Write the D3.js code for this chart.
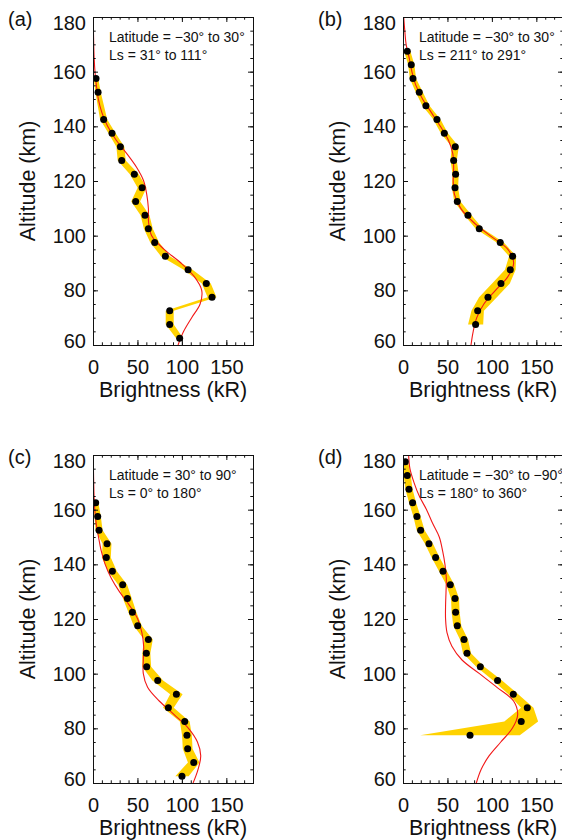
<!DOCTYPE html>
<html>
<head>
<meta charset="utf-8">
<script src="https://cdn.jsdelivr.net/npm/d3@7"></script>
<style>
  body { margin: 0; background: #fff; }
  svg { display: block; font-family: "Liberation Sans", Arial, sans-serif; }
  .axis text { font-size: 20px; fill: #111; font-family: "Liberation Sans", Arial, sans-serif; }
  .axis line { stroke: #111; }
  .title { font-size: 21.5px; fill: #111; }
  .panel-name { font-size: 20px; fill: #111; }
  .note { font-size: 14px; fill: #111; }
</style>
</head>
<body>
<svg width="562" height="840"></svg>
<script>

// altitude grid of the red model curves (km)
var modelAlt = [60, 65, 70, 75, 80, 85, 90, 95, 100, 105, 110, 115, 120,
                125, 130, 135, 140, 145, 150, 155, 160, 165, 170, 175, 180];

// panel (a)
var altA = [157.5, 152.5, 142.5, 137.5, 132.5, 127.5, 122.5, 117.5, 112.5, 107.5,
            102.5, 97.5, 92.5, 87.5, 82.5, 77.5, 72.5, 67.5, 62.5];
var brightA = [3.4, 5.7, 12, 21.4, 30.8, 32.3, 46.5, 55.2, 48, 58.5,
               62.3, 69.4, 81.4, 107, 127.5, 133.9, 86.3, 86.3, 97.5];
var errA = [2.5, 3, 4, 4, 4.5, 4.5, 5, 5, 5, 5, 5, 5, 5, 5, 5, 5, 4.5, 4.5, 4];
var modelA = [95.7, 102, 111, 120.5, 122.3, 114, 99, 80, 66, 62.5, 62.3, 60.5, 57,
              49, 38, 26, 16.5, 10, 6, 3.8, 2.2, 1.3, 0.8, 0.5, 0.3];

// panel (b)
var altB = [167.5, 162.5, 157.5, 152.5, 147.5, 142.5, 137.5, 132.5, 127.5, 122.5,
            117.5, 112.5, 107.5, 102.5, 97.5, 92.5, 87.5, 82.5, 77.5, 72.5, 67.5];
var brightB = [4.8, 9.3, 11.2, 18.3, 25.8, 38.2, 46.5, 58.8, 57, 59.2,
               58.5, 61.1, 73.1, 85.8, 109.4, 123.3, 120.7, 110.2, 95.6, 84, 81.7];
var errB = [3.5, 3.5, 3.5, 4, 4, 4, 4, 4, 3.5, 3.5, 3.5, 3.5, 4, 4, 4, 4, 6, 10, 10, 7, 8.5];
var modelB = [76.5, 79, 83, 91, 104, 118, 124.5, 118, 98, 79, 65, 58, 56.5,
              57, 56, 51, 42, 32, 22, 14.5, 10, 7, 3.5, 2, 0.8];

// panel (c)
var altC = [162.5, 157.5, 152.5, 147.5, 142.5, 137.5, 132.5, 127.5, 122.5, 117.5,
            112.5, 107.5, 102.5, 97.5, 92.5, 87.5, 82.5, 77.5, 72.5, 67.5, 62.5];
var brightC = [3, 5.3, 6.8, 15.8, 15, 21.8, 33.4, 38.7, 44.3, 50.3,
               62.3, 60, 60.4, 72.8, 93.8, 84.8, 103.2, 105.7, 106.5, 113.3, 100.1];
var errC = [3, 3.5, 4, 5, 5, 5, 5, 5, 4.5, 4.5, 5, 4.5, 5, 6, 7, 6, 5.5, 5.5, 5.5, 6.5, 7.5];
var modelC = [112.6, 118.2, 121.2, 117.5, 107.4, 91.3, 74.5, 61.4, 56.6, 56.6, 57, 55, 50.3,
              41, 29.7, 20.4, 13.7, 9.2, 6.2, 3.6, 2, 1.2, 0.8, 0.5, 0.4];

// panel (d)
var altD = [177.5, 172.5, 167.5, 162.5, 157.5, 152.5, 147.5, 142.5, 137.5, 132.5,
            127.5, 122.5, 117.5, 112.5, 107.5, 102.5, 97.5, 92.5, 87.5, 82.5, 77.5];
var brightD = [2.6, 4.8, 6.7, 10.8, 15.7, 19.8, 29.2, 36.7, 45, 53.2,
               58.5, 59.2, 61.1, 68.6, 72, 87, 106.4, 124.1, 139.8, 133, 75.4];
var errD = [3, 4, 4, 4, 4, 4.5, 4.5, 4.5, 4.5, 4.5, 4.5, 4.5, 4.5, 4.5, 4.5, 4.5, 5, 5.5, 7, 19, 56];
var modelD = [82.5, 88, 97, 110, 123, 129, 124.4, 105.7, 86, 66.4, 55, 49.5, 47.9,
              47.9, 48.4, 48.7, 47.2, 44.5, 40.8, 33.3, 26.5, 18.3, 12.3, 7.8, 6.3];

// labels
var panelNames = ["(a)", "(b)", "(c)", "(d)"];
var latText = ["Latitude = \u221230\u00b0 to 30\u00b0", "Latitude = \u221230\u00b0 to 30\u00b0",
               "Latitude = 30\u00b0 to 90\u00b0", "Latitude = \u221230\u00b0 to \u221290\u00b0"];
var lsText = ["Ls = 31\u00b0 to 111\u00b0", "Ls = 211\u00b0 to 291\u00b0",
              "Ls = 0\u00b0 to 180\u00b0", "Ls = 180\u00b0 to 360\u00b0"];
var xTicks = [0, 50, 100, 150];
var yTicks = [60, 80, 100, 120, 140, 160, 180];

var panels = [
  {name: panelNames[0], alt: altA, val: brightA, err: errA, model: modelA, lat: latText[0], ls: lsText[0], col: 0, row: 0},
  {name: panelNames[1], alt: altB, val: brightB, err: errB, model: modelB, lat: latText[1], ls: lsText[1], col: 1, row: 0},
  {name: panelNames[2], alt: altC, val: brightC, err: errC, model: modelC, lat: latText[2], ls: lsText[2], col: 0, row: 1},
  {name: panelNames[3], alt: altD, val: brightD, err: errD, model: modelD, lat: latText[3], ls: lsText[3], col: 1, row: 1}
];

var svg = d3.select("svg");

// layout of the 2 x 2 grid
var lefts = [93, 403],
    tops = [17, 455],
    width = 160,
    height = 328;

var x = d3.scaleLinear().domain([0, 180]).range([0, width]);
var y = d3.scaleLinear().domain([60, 180]).range([height, 0]);

var yellow = "#ffd200";

panels.forEach(function(p, i) {
  drawPanel(p, i);
});

function drawPanel(p, i) {

  var g = svg.append("g")
    .attr("transform", "translate(" + lefts[p.col] + "," + tops[p.row] + ")");

  // clip marks to the plot box
  g.append("clipPath")
    .attr("id", "clip" + i)
    .append("rect")
      .attr("width", width)
      .attr("height", height);

  var obs = p.alt.map(function(a, k) {
    return {alt: a, v: p.val[k], e: p.err[k]};
  });
  var mod = modelAlt.map(function(a, k) {
    return {alt: a, v: p.model[k]};
  });

  var plot = g.append("g").attr("clip-path", "url(#clip" + i + ")");

  // yellow uncertainty band
  var band = d3.area()
    .y(function(d) { return y(d.alt); })
    .x0(function(d) { return x(d.v - d.e); })
    .x1(function(d) { return x(d.v + d.e); });

  plot.append("path")
    .datum(obs)
    .attr("fill", yellow)
    .attr("d", band);

  // red model curve
  var line = d3.line()
    .curve(d3.curveCatmullRom.alpha(0.5))
    .x(function(d) { return x(d.v); })
    .y(function(d) { return y(d.alt); });

  plot.append("path")
    .datum(mod)
    .attr("fill", "none")
    .attr("stroke", "#f21818")
    .attr("stroke-width", 1.1)
    .attr("d", line);

  // observed points
  plot.selectAll("circle")
    .data(obs)
    .enter()
      .append("circle")
      .attr("cx", function(d) { return x(d.v); })
      .attr("cy", function(d) { return y(d.alt); })
      .attr("r", 3.5)
      .attr("fill", "#000");

  // axes, ticks pointing inward on all four sides
  var xMinor = d3.range(0, 181, 10),
      yMinor = d3.range(60, 181, 5);

  var bottom = g.append("g")
    .attr("class", "axis")
    .attr("transform", "translate(0," + height + ")");
  bottom.call(d3.axisBottom(x).tickValues(xMinor).tickSize(-2.7).tickSizeOuter(0).tickFormat(""));
  bottom.append("g").call(d3.axisBottom(x).tickValues(xTicks).tickSize(-5).tickSizeOuter(0).tickPadding(15));

  var top = g.append("g").attr("class", "axis");
  top.call(d3.axisTop(x).tickValues(xMinor).tickSize(-2.7).tickSizeOuter(0).tickFormat(""));
  top.append("g").call(d3.axisTop(x).tickValues(xTicks).tickSize(-5).tickSizeOuter(0).tickFormat(""));

  var left = g.append("g").attr("class", "axis");
  left.call(d3.axisLeft(y).tickValues(yMinor).tickSize(-2.7).tickSizeOuter(0).tickFormat(""));
  left.append("g").call(d3.axisLeft(y).tickValues(yTicks).tickSize(-5).tickSizeOuter(0).tickPadding(7));

  var right = g.append("g")
    .attr("class", "axis")
    .attr("transform", "translate(" + width + ",0)");
  right.call(d3.axisRight(y).tickValues(yMinor).tickSize(-2.7).tickSizeOuter(0).tickFormat(""));
  right.append("g").call(d3.axisRight(y).tickValues(yTicks).tickSize(-5).tickSizeOuter(0).tickFormat(""));

  g.selectAll(".domain").remove();

  // end labels sit a little inside the box
  left.selectAll(".tick text")
    .attr("dy", function(d) {
      if (d == 180) { return "0.62em"; }
      if (d == 60) { return "0.12em"; }
      return "0.32em";
    });

  // plot frame
  g.append("rect")
    .attr("x", 0.5)
    .attr("y", 0.5)
    .attr("width", width)
    .attr("height", height)
    .attr("fill", "none")
    .attr("stroke", "#111")
    .attr("stroke-width", 1);

  // axis titles
  g.append("text")
    .attr("class", "title")
    .attr("x", width / 2)
    .attr("y", height + 52)
    .attr("text-anchor", "middle")
    .text("Brightness (kR)");

  g.append("text")
    .attr("class", "title")
    .attr("transform", "translate(-58," + (height / 2) + ") rotate(-90)")
    .attr("text-anchor", "middle")
    .text("Altitude (km)");

  // panel letter
  g.append("text")
    .attr("class", "panel-name")
    .attr("x", -85)
    .attr("y", 8.5)
    .text(p.name);

  // latitude and season note
  g.append("text")
    .attr("class", "note")
    .attr("x", 16)
    .attr("y", 24.7)
    .text(p.lat);

  g.append("text")
    .attr("class", "note")
    .attr("x", 16)
    .attr("y", 42.7)
    .text(p.ls);
}
</script>
</body>
</html>
